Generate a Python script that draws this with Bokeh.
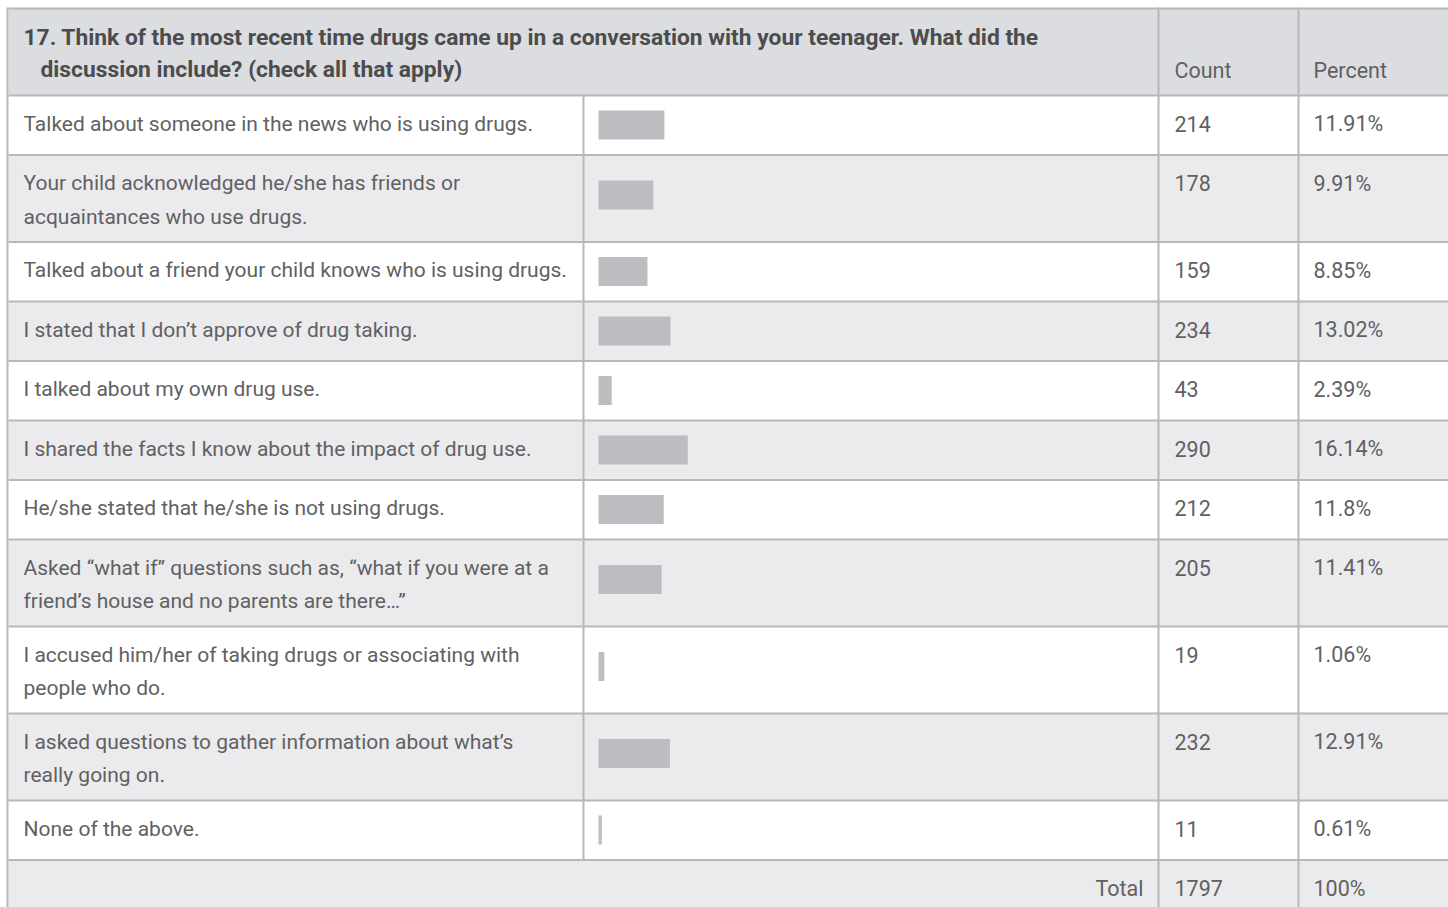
from bokeh.plotting import figure
from bokeh.models import Range1d, ColumnDataSource
from bokeh.core.properties import value
from bokeh.embed import file_html
from bokeh.resources import INLINE

# ---------------- data ----------------
question = ["17. Think of the most recent time drugs came up in a conversation with your teenager. What did the",
            "discussion include? (check all that apply)"]
col_headers = ["Count", "Percent"]
labels = [
    "Talked about someone in the news who is using drugs.",
    "Your child acknowledged he/she has friends or\nacquaintances who use drugs.",
    "Talked about a friend your child knows who is using drugs.",
    "I stated that I don\u2019t approve of drug taking.",
    "I talked about my own drug use.",
    "I shared the facts I know about the impact of drug use.",
    "He/she stated that he/she is not using drugs.",
    "Asked \u201cwhat if\u201d questions such as, \u201cwhat if you were at a\nfriend\u2019s house and no parents are there\u2026\u201d",
    "I accused him/her of taking drugs or associating with\npeople who do.",
    "I asked questions to gather information about what\u2019s\nreally going on.",
    "None of the above.",
]
counts = [214, 178, 159, 234, 43, 290, 212, 205, 19, 232, 11]
percents = [11.91, 9.91, 8.85, 13.02, 2.39, 16.14, 11.8, 11.41, 1.06, 12.91, 0.61]
percent_labels = ["11.91%", "9.91%", "8.85%", "13.02%", "2.39%", "16.14%", "11.8%", "11.41%", "1.06%", "12.91%", "0.61%"]
total_label = "Total"
total_count = 1797
total_percent = "100%"

# ---------------- layout (page pixels) ----------------
W, H = 1448, 907
X0, X1 = 8, W
Y0 = 8
HEADER_H = 87
COL_BAR = 583
COL_COUNT = 1158
COL_PCT = 1298
TEXT_X = 23
BAR_X = 598
PX_PER_PCT = 5.53
LINE_GAP = 33.5
BASE_OFF = 28
FONT = "Roboto"
FS = "21px"
NUM_FS = "21.5px"
HDR_FS = "22.8px"
TXT = "#606163"
HDR_TXT = "#4b4c4e"
LINE = "#b8b8ba"

p = figure(width=W, height=H, output_backend="svg", toolbar_location=None,
           x_range=Range1d(0, W), y_range=Range1d(H, 0),
           min_border=0, outline_line_color=None)
p.axis.visible = False
p.grid.visible = False
p.background_fill_color = "white"
p.border_fill_color = "white"

# row geometry from label line counts
lines_per_row = [len(l.split("\n")) for l in labels]
tops, bottoms = [], []
y = Y0 + HEADER_H
for n in lines_per_row:
    h = 32 + 27.5 * n
    tops.append(y)
    bottoms.append(y + h)
    y += h
total_top = y
total_bottom = H + 20

fills = ["#ffffff" if i % 2 == 0 else "#ebebed" for i in range(len(labels))]

# header and total backgrounds
p.quad(left=[X0], right=[X1], top=[Y0], bottom=[Y0 + HEADER_H], fill_color="#dcdde0", line_color=None)
p.quad(left=[X0], right=[X1], top=[total_top], bottom=[total_bottom], fill_color="#ebebed", line_color=None)
# row backgrounds
p.quad(left=X0, right=X1, top=tops, bottom=bottoms, fill_color=fills, line_color=None)

# bars
bar_tops = [t + (15 if n == 1 else 25.5) for t, n in zip(tops, lines_per_row)]
bar_src = ColumnDataSource(dict(
    left=[BAR_X] * len(percents),
    right=[BAR_X + v * PX_PER_PCT for v in percents],
    top=bar_tops,
    bottom=[t + 29 for t in bar_tops],
))
p.quad(left="left", right="right", top="top", bottom="bottom", source=bar_src,
       fill_color="#bcbdc0", line_color=None)

# grid lines
hy = [Y0] + tops + [total_top]
p.segment(x0=[X0] * len(hy), x1=[X1] * len(hy), y0=hy, y1=hy, line_color=LINE, line_width=2)
p.segment(x0=[X0 - 1, COL_COUNT, COL_PCT], x1=[X0 - 1, COL_COUNT, COL_PCT],
          y0=[Y0 - 1] * 3, y1=[total_bottom] * 3, line_color=LINE, line_width=2)
p.segment(x0=[COL_BAR], x1=[COL_BAR], y0=[Y0 + HEADER_H], y1=[total_top], line_color=LINE, line_width=2)

# header text
p.text(x=[TEXT_X, 40], y=[Y0 + 29, Y0 + 61], text=question, text_font=value(FONT),
       text_font_size=HDR_FS, text_font_style="bold", text_color=HDR_TXT, text_baseline="alphabetic")
p.text(x=[COL_COUNT + 16, COL_PCT + 15], y=[Y0 + 62, Y0 + 62], text=col_headers, text_font=value(FONT),
       text_font_size=NUM_FS, text_color=TXT, text_baseline="alphabetic")

# row labels
lx, ly, lt = [], [], []
for t, lab in zip(tops, labels):
    for k, line in enumerate(lab.split("\n")):
        lx.append(TEXT_X)
        ly.append(t + BASE_OFF + k * LINE_GAP)
        lt.append(line)
p.text(x=lx, y=ly, text=lt, text_font=value(FONT), text_font_size=FS,
       text_color=TXT, text_baseline="alphabetic")

first_base = [t + BASE_OFF for t in tops]
p.text(x=[COL_COUNT + 16] * len(counts), y=first_base, text=[str(c) for c in counts],
       text_font=value(FONT), text_font_size=NUM_FS, text_color=TXT, text_baseline="alphabetic")
p.text(x=[COL_PCT + 15] * len(percent_labels), y=first_base, text=percent_labels,
       text_font=value(FONT), text_font_size=NUM_FS, text_color=TXT, text_baseline="alphabetic")

# total row
tb = total_top + BASE_OFF
p.text(x=[COL_COUNT - 15], y=[tb], text=[total_label], text_font=value(FONT), text_font_size=NUM_FS,
       text_color=TXT, text_baseline="alphabetic", text_align="right")
p.text(x=[COL_COUNT + 16, COL_PCT + 15], y=[tb, tb], text=[str(total_count), total_percent],
       text_font=value(FONT), text_font_size=NUM_FS, text_color=TXT, text_baseline="alphabetic")

open("out.html", "w").write(file_html(p, INLINE))
